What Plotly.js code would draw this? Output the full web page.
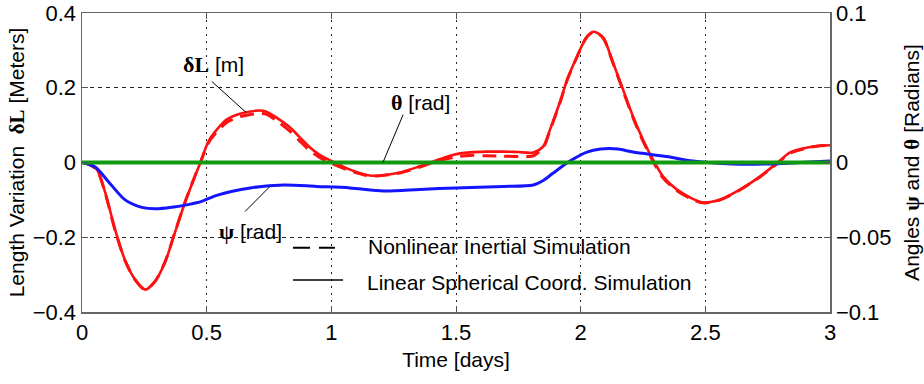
<!DOCTYPE html>
<html>
<head>
<meta charset="utf-8">
<script src="https://cdn.plot.ly/plotly-3.0.1.min.js"></script>
<style>html,body{margin:0;padding:0;background:#fff;}#chart{width:924px;height:384px;}</style>
</head>
<body>
<div id="chart"></div>
<script>
// Time axis (days) for the length variation curves
const timeL = [0, 0.03, 0.06, 0.093, 0.133, 0.173, 0.213, 0.253, 0.293, 0.333, 0.373, 0.413, 0.453, 0.475, 0.51, 0.58, 0.63, 0.67, 0.71, 0.74, 0.78, 0.83, 0.87, 0.91, 0.95, 1.0, 1.075, 1.155, 1.21, 1.275, 1.355, 1.41, 1.49, 1.556, 1.62, 1.69, 1.75, 1.81, 1.85, 1.877, 1.92, 1.945, 1.985, 2.025, 2.053, 2.09, 2.13, 2.17, 2.21, 2.25, 2.29, 2.33, 2.385, 2.44, 2.49, 2.56, 2.64, 2.72, 2.79, 2.84, 2.91, 2.96, 3.0];
// Length variation dL [m], linear spherical coordinate simulation (solid)
const dL_linear = [0, -0.006, -0.019, -0.08, -0.18, -0.262, -0.313, -0.34, -0.318, -0.267, -0.187, -0.107, -0.037, 0, 0.06, 0.115, 0.13, 0.136, 0.139, 0.136, 0.12, 0.096, 0.07, 0.043, 0.022, 0.004, -0.019, -0.035, -0.034, -0.027, -0.01, 0.003, 0.021, 0.027, 0.029, 0.029, 0.028, 0.027, 0.043, 0.088, 0.168, 0.22, 0.283, 0.337, 0.35, 0.334, 0.267, 0.195, 0.123, 0.061, 0.008, -0.037, -0.072, -0.094, -0.107, -0.099, -0.072, -0.037, 0, 0.027, 0.04, 0.045, 0.046];
// Length variation dL [m], nonlinear inertial simulation (dashed)
const dL_nonlinear = [0, -0.006, -0.02, -0.082, -0.182, -0.263, -0.314, -0.34, -0.318, -0.266, -0.186, -0.106, -0.036, 0, 0.056, 0.107, 0.122, 0.128, 0.131, 0.129, 0.112, 0.086, 0.06, 0.034, 0.015, -0.002, -0.022, -0.036, -0.034, -0.028, -0.012, 0, 0.014, 0.019, 0.018, 0.017, 0.016, 0.018, 0.04, 0.086, 0.166, 0.219, 0.282, 0.336, 0.349, 0.333, 0.265, 0.192, 0.12, 0.057, 0.004, -0.041, -0.075, -0.096, -0.108, -0.1, -0.073, -0.038, -0.002, 0.025, 0.039, 0.045, 0.046];
// Angle psi [rad]
const timePsi = [0, 0.053, 0.107, 0.173, 0.24, 0.293, 0.36, 0.43, 0.48, 0.54, 0.675, 0.81, 0.94, 1.075, 1.21, 1.355, 1.5, 1.69, 1.81, 1.85, 1.89, 1.957, 2.025, 2.08, 2.15, 2.21, 2.345, 2.45, 2.61, 2.745, 2.88, 3.0];
const psi = [0, -0.003, -0.013, -0.025, -0.030, -0.031, -0.030, -0.028, -0.026, -0.022, -0.017, -0.015, -0.016, -0.017, -0.019, -0.018, -0.017, -0.016, -0.015, -0.012, -0.007, 0.001, 0.007, 0.009, 0.009, 0.007, 0.004, 0.001, -0.001, -0.001, 0, 0.001];
// Angle theta [rad]
const timeTheta = [0, 3];
const theta = [0, 0];

const xTicks = [0, 0.5, 1, 1.5, 2, 2.5, 3];
const yTicksLeft = [-0.4, -0.2, 0, 0.2, 0.4];
const yTicksRight = [-0.1, -0.05, 0, 0.05, 0.1];

const FONT = 'Liberation Sans, Arial, sans-serif';
const SERIF = 'Liberation Serif, Times New Roman, serif';
const sym = s => '<span style="font-family:' + SERIF + ';font-weight:bold">' + s + '</span>';

const traces = [
  {x: timeL, y: dL_nonlinear, type: 'scatter', mode: 'lines', line: {color: '#ff1010', width: 3, dash: '14px,8px', shape: 'spline', smoothing: 0.8}, showlegend: false, yaxis: 'y'},
  {x: timeL, y: dL_linear, type: 'scatter', mode: 'lines', line: {color: '#ff1010', width: 2.6, shape: 'spline', smoothing: 0.8}, showlegend: false, yaxis: 'y'},
  {x: timePsi, y: psi, type: 'scatter', mode: 'lines', line: {color: '#1414ff', width: 3, shape: 'spline', smoothing: 0.8}, showlegend: false, yaxis: 'y2'},
  {x: timeTheta, y: theta, type: 'scatter', mode: 'lines', line: {color: '#119911', width: 4}, showlegend: false, yaxis: 'y2'}
];

const axisCommon = {
  showline: true, linecolor: '#666', linewidth: 1.5,
  ticks: 'inside', ticklen: 6, tickcolor: '#555', tickwidth: 1,
  zeroline: false, tickfont: {family: FONT, size: 22, color: '#000'}
};

const layout = {
  width: 924, height: 384,
  margin: {l: 82, r: 94, t: 13, b: 72},
  paper_bgcolor: '#fff', plot_bgcolor: '#fff',
  font: {family: FONT, color: '#000'},
  showlegend: false,
  xaxis: Object.assign({}, axisCommon, {
    range: [0, 3], tickvals: xTicks, mirror: 'ticks',
    showgrid: true, gridcolor: '#222', gridwidth: 1, griddash: '2px,5px',
    title: {text: 'Time [days]', font: {family: FONT, size: 21, color: '#000'}, standoff: 8}
  }),
  yaxis: Object.assign({}, axisCommon, {
    range: [-0.4, 0.4], tickvals: yTicksLeft,
    showgrid: true, gridcolor: '#222', gridwidth: 1, griddash: '4px,4px',
    title: {text: 'Length Variation  ' + sym('δL') + ' [Meters]', font: {family: FONT, size: 21, color: '#000'}, standoff: 2}
  }),
  yaxis2: Object.assign({}, axisCommon, {
    range: [-0.1, 0.1], tickvals: yTicksRight, overlaying: 'y', side: 'right',
    showgrid: false,
    title: {text: 'Angles ' + sym('ψ') + ' and ' + sym('θ') + ' [Radians]', font: {family: FONT, size: 21, color: '#000'}, standoff: 15}
  }),
  shapes: [
    {type: 'line', xref: 'x', yref: 'y', x0: 0.521, y0: 0.2166, x1: 0.658, y1: 0.134, line: {color: '#000', width: 1}},
    {type: 'line', xref: 'x', yref: 'y', x0: 1.288, y0: 0.128, x1: 1.207, y1: 0, line: {color: '#000', width: 1}},
    {type: 'line', xref: 'x', yref: 'y', x0: 0.654, y0: -0.131, x1: 0.754, y1: -0.064, line: {color: '#000', width: 1}},
    {type: 'line', xref: 'paper', yref: 'paper', x0: 0.2821, y0: 0.215, x1: 0.3382, y1: 0.215, line: {color: '#000', width: 2, dash: '17px,9px'}},
    {type: 'line', xref: 'paper', yref: 'paper', x0: 0.2821, y0: 0.107, x1: 0.349, y1: 0.107, line: {color: '#000', width: 1.5}}
  ],
  annotations: [
    {xref: 'x', yref: 'y', x: 0.5255, y: 0.262, text: '<span style="font-size:22px">' + sym('δL') + '</span> [m]', showarrow: false, font: {family: FONT, size: 21, color: '#000'}},
    {xref: 'x', yref: 'y', x: 1.356, y: 0.160, text: '<span style="font-size:22px">' + sym('θ') + '</span> [rad]', showarrow: false, font: {family: FONT, size: 21, color: '#000'}},
    {xref: 'x', yref: 'y', x: 0.674, y: -0.184, text: '<span style="font-size:22px">' + sym('ψ') + '</span> [rad]', showarrow: false, font: {family: FONT, size: 21, color: '#000'}},
    {xref: 'paper', yref: 'paper', x: 0.3797, y: 0.2174, xanchor: 'left', yanchor: 'middle', text: 'Nonlinear Inertial Simulation', showarrow: false, font: {family: FONT, size: 21, color: '#000'}},
    {xref: 'paper', yref: 'paper', x: 0.378, y: 0.1003, xanchor: 'left', yanchor: 'middle', text: 'Linear Spherical Coord. Simulation', showarrow: false, font: {family: FONT, size: 21, color: '#000'}}
  ]
};

Plotly.newPlot('chart', traces, layout, {staticPlot: true, displayModeBar: false});
</script>
</body>
</html>
